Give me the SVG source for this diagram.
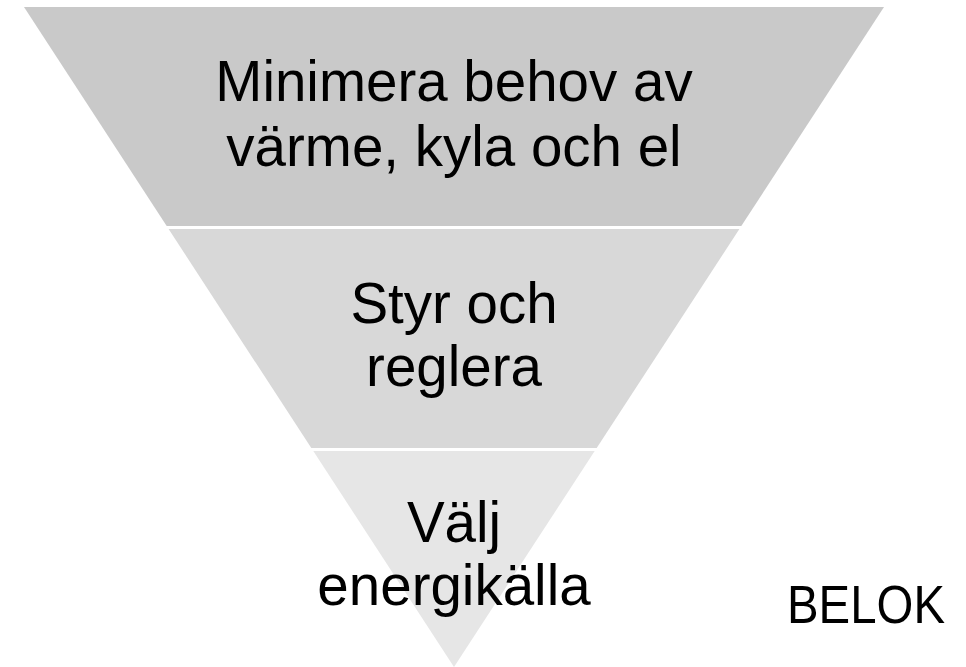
<svg xmlns="http://www.w3.org/2000/svg" width="966" height="667" viewBox="0 0 966 667">
<style>
.t{font-family:"Liberation Sans",Arial,sans-serif;font-size:56.5px;fill:#000;text-anchor:middle}
</style>
<rect width="966" height="667" fill="#fff"/>
<g id="level1">
<polygon points="24,7 884,7 741.3,226 166.7,226" fill="#c9c9c9"/>
<text class="t" x="454" y="101">Minimera behov av</text>
<text class="t" x="454" y="166">värme, kyla och el</text>
</g>
<g id="level2">
<polygon points="168.6,229 739.4,229 596.7,448 311.3,448" fill="#d8d8d8"/>
<text class="t" x="454" y="323">Styr och</text>
<text class="t" x="454" y="386">reglera</text>
</g>
<g id="level3">
<polygon points="313.3,451 594.7,451 454,667" fill="#e6e6e6"/>
<text class="t" x="454" y="542">Välj</text>
<text class="t" x="454" y="605">energikälla</text>
</g>
<g id="label">
<text x="787" y="623" style="font-family:'Liberation Sans',Arial,sans-serif;font-size:53px" textLength="158" lengthAdjust="spacingAndGlyphs">BELOK</text>
</g>
<g id="connectors"/>
</svg>
